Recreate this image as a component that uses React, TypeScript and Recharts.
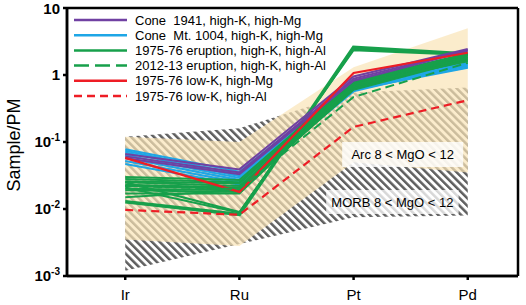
import { ComposedChart, Line, Area, XAxis, YAxis, ReferenceArea, ReferenceLine, Customized } from 'recharts'

const elements = ['Ir', 'Ru', 'Pt', 'Pd']
const yTicks = [0.001, 0.01, 0.1, 1, 10]
const xDomain = [-0.51, 3.44]
const yDomain = [0.001, 10]

// fields
const arcLow = [0.0035, 0.0028, 0.05, 0.035]
const arcHigh = [0.12, 0.1, 1.3, 5]
const morbLow = [0.0012, 0.003, 0.0075, 0.008]
const morbHigh = [0.12, 0.16, 0.55, 0.65]

// samples, Ir Ru Pt Pd
const cone1941 = [
  [0.066, 0.039, 0.95, 2.45],
  [0.061, 0.035, 0.88, 2.35],
  [0.057, 0.033, 0.82, 2.3],
]
const cone1004 = [
  [0.078, 0.036, 0.82, 1.6],
  [0.074, 0.033, 0.76, 1.5],
  [0.07, 0.031, 0.72, 1.42],
  [0.064, 0.029, 0.68, 1.36],
  [0.058, 0.027, 0.64, 1.3],
  [0.052, 0.025, 0.6, 1.28],
  [0.047, 0.023, 0.57, 1.45],
]
const eruption7576 = [
  [0.03, 0.027, 0.82, 2.1],
  [0.028, 0.025, 0.78, 2.0],
  [0.026, 0.024, 0.74, 1.95],
  [0.025, 0.022, 0.7, 1.9],
  [0.023, 0.021, 0.66, 1.85],
  [0.022, 0.02, 0.62, 1.75],
  [0.02, 0.019, 0.6, 1.7],
  [0.019, 0.018, 0.64, 1.8],
  [0.017, 0.017, 0.68, 1.65],
  [0.015, 0.019, 0.72, 1.6],
  [0.021, 0.0088, 2.45, 2.05],
  [0.025, 0.009, 2.35, 1.98],
]
const eruption7576Thick = [[0.0128, 0.0083, 2.6, 2.05]]
const eruption1213 = [[0.022, 0.02, 0.47, 1.52]]
const lowKMg = [[0.058, 0.018, 1.07, 2.15]]
const lowKAl = [[0.0097, 0.0082, 0.168, 0.42]]

const PURPLE = '#7040a2'
const BLUE = '#1ea6e6'
const GREEN = '#17a04b'
const RED = '#ee1d25'

const groups = [
  { key: 'b', name: 'Cone  Mt. 1004, high-K, high-Mg', color: BLUE, dash: undefined, width: 2, lines: cone1004, legend: 1 },
  { key: 'g', name: '1975-76 eruption, high-K, high-Al', color: GREEN, dash: undefined, width: 2, lines: eruption7576, legend: 2 },
  { key: 'gt', name: '', color: GREEN, dash: undefined, width: 3.5, lines: eruption7576Thick, legend: -1 },
  { key: 'p', name: 'Cone  1941, high-K, high-Mg', color: PURPLE, dash: undefined, width: 2, lines: cone1941, legend: 0 },
  { key: 'r', name: '1975-76 low-K, high-Mg', color: RED, dash: undefined, width: 2.2, lines: lowKMg, legend: 4 },
  { key: 'gd', name: '2012-13 eruption, high-K, high-Al', color: GREEN, dash: '9 5', width: 2, lines: eruption1213, legend: 3 },
  { key: 'rd', name: '1975-76 low-K, high-Al', color: RED, dash: '8 5', width: 2.2, lines: lowKAl, legend: 5 },
]

const rows = elements.map((el, i) => {
  const row: Record<string, any> = {
    x: i,
    el,
    arc: [arcLow[i], arcHigh[i]],
    morb: [morbLow[i], morbHigh[i]],
  }
  groups.forEach((g) => g.lines.forEach((l, j) => (row[`${g.key}${j}`] = l[i])))
  return row
})

const legendItems = groups
  .filter((g) => g.legend >= 0)
  .sort((a, b) => a.legend - b.legend)

const FONT = 'Arial, "Liberation Sans", Helvetica, sans-serif'

function YTick({ x, y, payload }: any) {
  const v = payload.value
  const exp = Math.round(Math.log10(v))
  return (
    <text x={x} y={y + 5} textAnchor="end" fontFamily={FONT} fontWeight="bold" fontSize={15} fill="#000">
      {exp === 1 ? '10' : exp === 0 ? '1' : (
        <>
          <tspan>10</tspan>
          <tspan fontSize={10} dy={-6}>{exp}</tspan>
        </>
      )}
    </text>
  )
}

function XTick({ x, y, payload }: any) {
  return (
    <text x={x} y={y + 11} textAnchor="middle" fontFamily={FONT} fontSize={15} fill="#000">
      {elements[payload.value]}
    </text>
  )
}

function LegendBlock() {
  return (
    <g fontFamily={FONT} fontSize={13}>
      {legendItems.map((g, i) => {
        const y = 20 + i * 15.2
        return (
          <g key={g.key}>
            <line x1={74} x2={127} y1={y} y2={y} stroke={g.color} strokeWidth={2.5}
              strokeDasharray={g.dash === '9 5' ? '15 6' : g.dash} />
            <text x={135} y={y + 4.6} fill="#000" xmlSpace="preserve">{g.name}</text>
          </g>
        )
      })}
    </g>
  )
}

function YLabel() {
  return (
    <text x={20} y={145} transform="rotate(-90, 20, 145)" textAnchor="middle" fontFamily={FONT} fontSize={18} fill="#000">
      Sample/PM
    </text>
  )
}

const edge = { stroke: '#000', strokeWidth: 2.5, ifOverflow: 'visible' as const }

export default function App() {
  return (
    <div style={{ position: 'absolute', left: 0, top: 0, width: 526, height: 305 }}>
      <ComposedChart width={526} height={305} data={rows} margin={{ top: 8, right: 8, bottom: 0, left: 0 }}>
        <defs>
          <pattern id="morbHatch" patternUnits="userSpaceOnUse" width={5.4} height={5.4} patternTransform="rotate(-45)">
            <rect x={0} y={0} width={2.5} height={5.4} fill="#5f5f5f" />
          </pattern>
        </defs>
        <XAxis
          dataKey="x"
          type="number"
          domain={xDomain}
          ticks={[0, 1, 2, 3]}
          allowDataOverflow
          height={29}
          tickSize={4}
          tickMargin={9}
          stroke="#000"
          strokeWidth={2.5}
          axisLine
          tickLine
          tick={<XTick />}
        />
        <YAxis
          type="number"
          scale="log"
          domain={yDomain}
          ticks={yTicks}
          allowDataOverflow
          width={67}
          tickSize={4}
          tickMargin={3}
          stroke="#000"
          strokeWidth={2.5}
          axisLine
          tickLine
          tick={<YTick />}
        />
        <Area dataKey="morb" type="linear" stroke="none" fill="url(#morbHatch)" fillOpacity={1} isAnimationActive={false} activeDot={false} />
        <Area dataKey="arc" type="linear" stroke="none" fill="#f9e4b6" fillOpacity={0.7} isAnimationActive={false} activeDot={false} />
        <ReferenceArea x1={1.9} x2={2.96} y1={0.0424} y2={0.1} fill="#fff" fillOpacity={0.8} stroke="none"
          label={{ value: 'Arc 8 < MgO < 12', position: 'center', fill: '#000', fontSize: 13, fontFamily: FONT }} />
        <ReferenceArea x1={1.76} x2={2.92} y1={0.0084} y2={0.0192} fill="#fff" fillOpacity={0.75} stroke="none"
          label={{ value: 'MORB 8 < MgO < 12', position: 'center', fill: '#000', fontSize: 13, fontFamily: FONT }} />
        {groups.flatMap((g) =>
          g.lines.map((_, j) => (
            <Line
              key={`${g.key}${j}`}
              dataKey={`${g.key}${j}`}
              type="linear"
              stroke={g.color}
              strokeWidth={g.width}
              strokeDasharray={g.dash}
              dot={false}
              activeDot={false}
              isAnimationActive={false}
            />
          ))
        )}
        <ReferenceLine y={yDomain[1]} {...edge} />
        <ReferenceLine x={xDomain[1]} {...edge} />
        <ReferenceLine y={yDomain[0]} {...edge} />
        <ReferenceLine x={xDomain[0]} {...edge} />
        <Customized component={<YLabel />} />
        <Customized component={<LegendBlock />} />
      </ComposedChart>
    </div>
  )
}
